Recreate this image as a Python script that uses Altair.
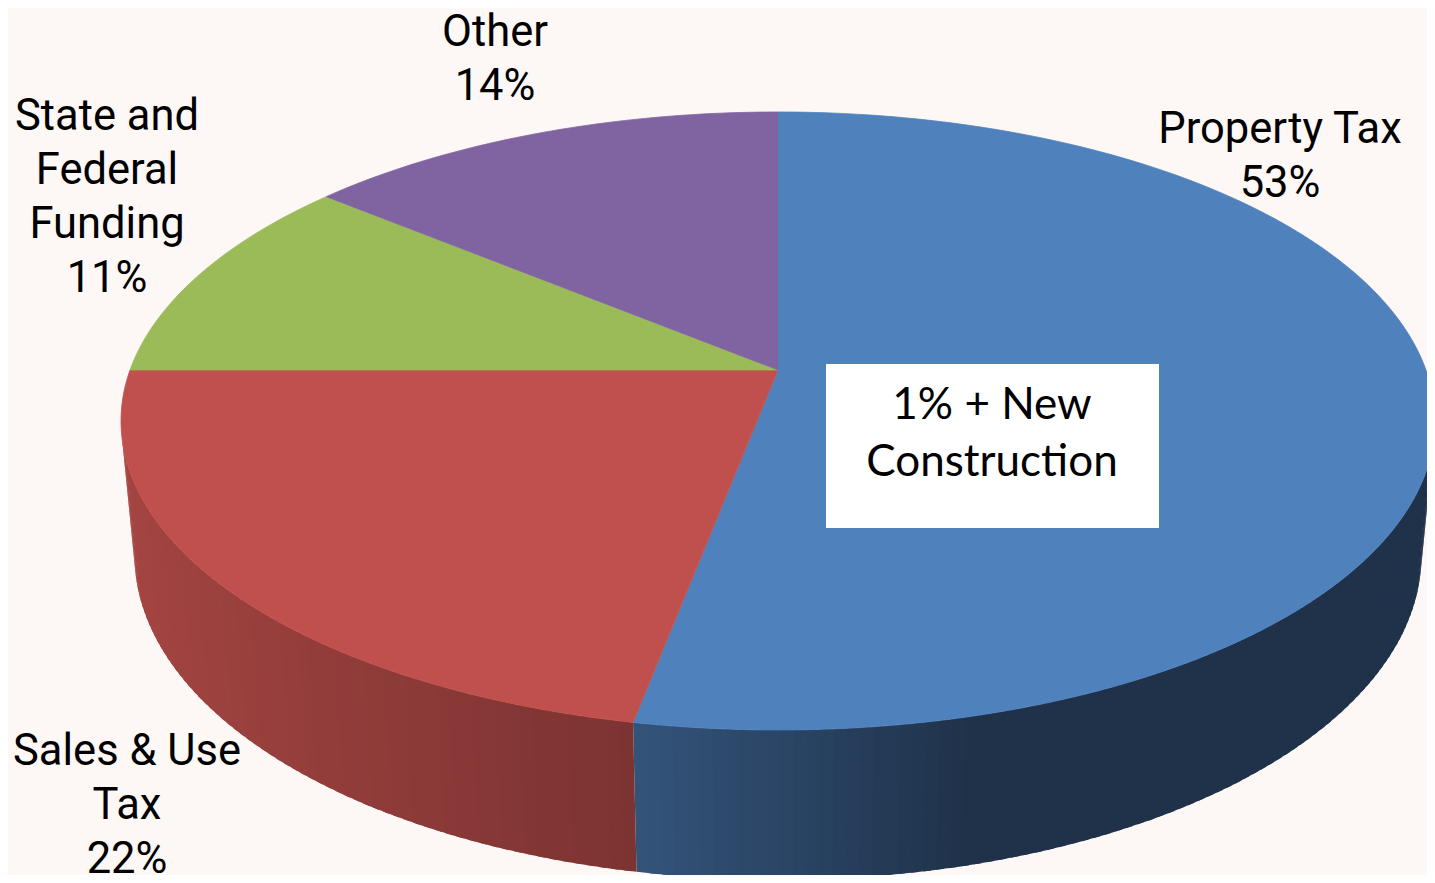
import numpy as np
import pandas as pd
import altair as alt

# ---- data ----
categories = ["Property Tax", "Sales & Use Tax", "State and Federal Funding", "Other"]
shares = [53, 22, 11, 14]
label_text = ["Property Tax", "Sales & Use\nTax", "State and\nFederal\nFunding", "Other"]
top_colors = ["#4F81BD", "#C0504D", "#9BBB59", "#8064A2"]
note_text = "1% + New\nConstruction"

# ---- layout (reference pixel space) ----
W, H = 1419, 867
X0, Y0 = 8, 8
CX, CY = 778.0, 370.0            # projected pie centre
SA = 0.4639                      # sin of tilt
CA = float(np.sqrt(1 - SA ** 2))
DIST = 5.369                     # camera distance (pie radius = 1)
FOC = 3479.0                     # focal length in px
THICK = 0.236                    # pie thickness (pie radius = 1)
label_pos = {                    # centre x, first baseline y
    "Property Tax": (1280, 143),
    "Sales & Use Tax": (127, 765),
    "State and Federal Funding": (107, 130),
    "Other": (495, 46),
}
box = dict(x=826, x2=1159, y=364, y2=528, tx=992, ty=419)


def proj(X, Y, Z):
    xc = X
    yc = Y * CA + Z * SA
    zc = -Y * SA + Z * CA + DIST
    return CX + FOC * xc / zc, CY - FOC * yc / zc


def shade(hex_color, f):
    h = hex_color.lstrip("#")
    rgb = [int(h[i:i + 2], 16) for i in (0, 2, 4)]
    return "#" + "".join(f"{max(0, min(255, int(round(c * f)))):02x}" for c in rgb)


# slice angles: start at top (90 deg), clockwise
total = float(sum(shares))
starts, ends = [], []
acc = 0.0
for s in shares:
    a0 = 90.0 - 360.0 * acc / total
    acc += s
    a1 = 90.0 - 360.0 * acc / total
    starts.append(a0)
    ends.append(a1)

# visible side range (outer wall facing the camera)
lim = np.degrees(np.arcsin(1.0 / (DIST * CA)))
vis_lo, vis_hi = -180.0 + lim, -lim

top_rows, side_rows = [], []
for i, cat in enumerate(categories):
    a0, a1 = starts[i], ends[i]
    n = max(2, int(np.ceil(abs(a0 - a1))))
    angs = np.linspace(a0, a1, n + 1)
    pid = f"top{i}"
    x, y = proj(0.0, 0.0, 0.0)
    top_rows.append(dict(pid=pid, o=0, x=x, y=y, fill=top_colors[i]))
    for j, a in enumerate(angs):
        r = np.radians(a)
        x, y = proj(np.cos(r), 0.0, np.sin(r))
        top_rows.append(dict(pid=pid, o=j + 1, x=x, y=y, fill=top_colors[i]))
    # side wall, split into overlapping strips for the shading
    lo, hi = max(min(a0, a1), vis_lo), min(max(a0, a1), vis_hi)
    if hi > lo:
        m = max(2, int(np.ceil((hi - lo) / 1.0)))
        sa = np.linspace(lo, hi, m + 1)
        for j in range(m):
            da, db = sa[j], min(hi, sa[j + 1] + 0.6)
            pa, pb = np.radians(da), np.radians(db)
            c = np.cos(np.radians((sa[j] + sa[j + 1]) / 2))
            f = float(np.interp(c, [-1.0, -0.17, 0.25, 1.0], [0.87, 0.64, 0.39, 0.39]))
            col = shade(top_colors[i], f)
            spid = f"side{i}_{j:04d}"
            pts = [proj(np.cos(pa), 0.0, np.sin(pa)), proj(np.cos(pb), 0.0, np.sin(pb)),
                   proj(np.cos(pb), -THICK, np.sin(pb)), proj(np.cos(pa), -THICK, np.sin(pa))]
            for k, (x, y) in enumerate(pts):
                side_rows.append(dict(pid=spid, o=k, x=x, y=y, fill=col))

top_df = pd.DataFrame(top_rows)
side_df = pd.DataFrame(side_rows)

lab_df = pd.DataFrame({
    "x": [label_pos[c][0] for c in categories],
    "y": [label_pos[c][1] for c in categories],
    "text": [f"{t}\n{s}%" for t, s in zip(label_text, shares)],
})
box_df = pd.DataFrame([box])
box_df["text"] = note_text

xs = alt.Scale(domain=[X0, X0 + W], nice=False, zero=False)
ys = alt.Scale(domain=[Y0, Y0 + H], nice=False, zero=False, reverse=True)


def poly(df, sw):
    return alt.Chart(df).mark_line(strokeWidth=sw, interpolate="linear").encode(
        x=alt.X("x:Q", scale=xs, axis=None),
        y=alt.Y("y:Q", scale=ys, axis=None),
        detail="pid:N",
        order="o:Q",
        fill=alt.Fill("fill:N", scale=None),
        stroke=alt.Stroke("fill:N", scale=None),
    )


sides = poly(side_df, 0)
tops = poly(top_df, 0.8)

labels = alt.Chart(lab_df).mark_text(
    font="Roboto", fontSize=43.5, lineHeight=54, align="center", baseline="alphabetic",
    lineBreak="\n", color="#000000",
).encode(x=alt.X("x:Q", scale=xs, axis=None), y=alt.Y("y:Q", scale=ys, axis=None), text="text:N")

note_box = alt.Chart(box_df).mark_rect(color="#FFFFFF").encode(
    x=alt.X("x:Q", scale=xs, axis=None), x2="x2:Q",
    y=alt.Y("y:Q", scale=ys, axis=None), y2="y2:Q",
)
note_txt = alt.Chart(box_df).mark_text(
    font="Lato", fontSize=44, lineHeight=57, align="center", baseline="alphabetic",
    lineBreak="\n", color="#000000",
).encode(x=alt.X("tx:Q", scale=xs, axis=None), y=alt.Y("ty:Q", scale=ys, axis=None), text="text:N")

chart = alt.layer(sides, tops, note_box, note_txt, labels).properties(
    width=W, height=H, background="#FDF8F5", padding=0,
    autosize=alt.AutoSizeParams(type="none"),
).configure_view(stroke=None)

chart.save("out.html", embed_options={"renderer": "svg", "actions": False})
